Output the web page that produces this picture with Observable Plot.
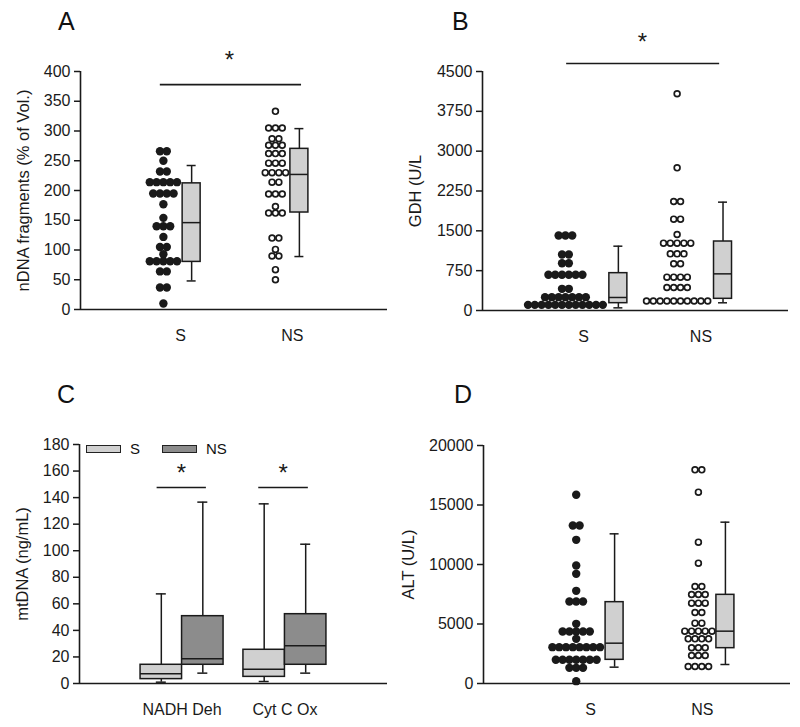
<!DOCTYPE html>
<html><head><meta charset="utf-8">
<script src="https://cdn.jsdelivr.net/npm/d3@7"></script>
<script src="https://cdn.jsdelivr.net/npm/@observablehq/plot@0.6"></script>
<style>
body{margin:0;background:#fff;font-family:"Liberation Sans",Arial,sans-serif;}
#root{position:relative;width:800px;height:727px;overflow:hidden;background:#fff;}
.panel{position:absolute;}
.letter{position:absolute;font-size:25px;line-height:1;color:#111;}
.leg{position:absolute;font-size:15px;line-height:1;color:#111;display:flex;align-items:center;}
.leg span.sw{display:inline-block;width:33px;height:6px;border:1.5px solid #222;margin-right:9px;}
</style></head><body><div id="root"></div>
<script>
// ---------- DATA ----------
const groups = ["S", "NS"];

// Panel A: nDNA fragments (% of Vol.) — dot rows (value, number of dots) and box stats [low whisker, Q1, median, Q3, high whisker]
const nDNA_S_vals = [266, 250, 232, 214, 195, 177, 154, 140, 122, 105, 93, 81, 64, 37, 10];
const nDNA_S_n    = [2, 1, 2, 5, 4, 1, 1, 3, 1, 2, 1, 5, 2, 2, 1];
const nDNA_NS_vals = [333, 305, 287, 276, 262, 246, 230, 214, 194, 173, 162, 120, 101, 90, 67, 50];
const nDNA_NS_n    = [1, 3, 2, 3, 3, 3, 4, 2, 3, 1, 3, 2, 1, 2, 1, 1];
const nDNA_S_box  = [48, 80, 146, 212, 242];
const nDNA_NS_box = [89, 163, 227, 270, 304];
const nDNA_ticks = [0, 50, 100, 150, 200, 250, 300, 350, 400];

// Panel B: GDH (U/L)
const GDH_S_vals = [1412, 1054, 891, 672, 408, 251, 106];
const GDH_S_n    = [3, 2, 2, 6, 2, 7, 12];
const GDH_NS_vals = [4080, 2686, 2052, 1720, 1431, 1268, 1067, 879, 628, 433, 180];
const GDH_NS_n    = [1, 1, 2, 2, 1, 5, 3, 2, 4, 4, 10];
const GDH_S_box  = [50, 138, 245, 703, 1211];
const GDH_NS_box = [145, 220, 690, 1299, 2040];
const GDH_ticks = [0, 750, 1500, 2250, 3000, 3750, 4500];

// Panel C: mtDNA (ng/mL) box plots
const mt_categories = ["NADH Deh", "Cyt C Ox"];
const mt_S_box  = [[1.0, 3.3, 7.3, 14.1, 67.5], [1.5, 5.0, 10.8, 25.4, 135.3]];
const mt_NS_box = [[7.8, 14.1, 18.6, 50.7, 136.6], [7.8, 14.1, 28.4, 52.2, 104.9]];
const mt_ticks = [0, 20, 40, 60, 80, 100, 120, 140, 160, 180];

// Panel D: ALT (U/L)
const ALT_S_vals = [15857, 13277, 12073, 9916, 9216, 7787, 6891, 5014, 4370, 3754, 3053, 1990, 1317, 196];
const ALT_S_n    = [1, 2, 1, 1, 1, 1, 3, 1, 5, 1, 8, 7, 3, 1];
const ALT_NS_vals = [17955, 16078, 11877, 10112, 8151, 7479, 6751, 5966, 5070, 4398, 3754, 3000, 2353, 1429];
const ALT_NS_n    = [2, 1, 1, 1, 2, 3, 3, 2, 2, 5, 4, 3, 3, 4];
const ALT_S_box  = [1373, 1989, 3389, 6835, 12577];
const ALT_NS_box = [1597, 2969, 4398, 7451, 13557];
const ALT_ticks = [0, 5000, 10000, 15000, 20000];

// ---------- STYLE / LAYOUT ----------
const INK = "#1a1a1a";
const LIGHT = "#d0d0d0";
const DARK = "#8c8c8c";
const FONT = "'Liberation Sans', Arial, sans-serif";
const root = document.getElementById("root");

function place(node, left, top) {
  node.classList.add("panel");
  node.style.left = left + "px";
  node.style.top = top + "px";
  root.appendChild(node);
}

function boxRecord(stats, x, extra) {
  return Object.assign({x, lo: stats[0], q1: stats[1], med: stats[2], q3: stats[3], hi: stats[4]}, extra || {});
}

function boxMarks(boxes, halfW, capHalf) {
  return [
    Plot.ruleX(boxes, {x: "x", y1: "lo", y2: "hi", stroke: INK, strokeWidth: 1.5}),
    Plot.ruleY(boxes, {y: "hi", x1: d => d.x - capHalf, x2: d => d.x + capHalf, stroke: INK, strokeWidth: 1.5}),
    Plot.ruleY(boxes, {y: "lo", x1: d => d.x - capHalf, x2: d => d.x + capHalf, stroke: INK, strokeWidth: 1.5}),
    Plot.rect(boxes, {x1: d => d.x - halfW(d), x2: d => d.x + halfW(d), y1: "q1", y2: "q3", fill: d => d.fill || LIGHT, stroke: INK, strokeWidth: 1.5}),
    Plot.ruleY(boxes, {y: "med", x1: d => d.x - halfW(d), x2: d => d.x + halfW(d), stroke: INK, strokeWidth: 1.5})
  ];
}

function axesMarks(cfg) {
  const [y0, y1] = cfg.yDomain;
  return [
    Plot.axisY({ticks: cfg.yTicks, tickSize: 6, tickPadding: 4, tickFormat: d => String(d), stroke: INK, strokeWidth: 1.5, fontSize: 16, fill: INK, label: null}),
    Plot.ruleX([0], {y1: y0, y2: y1, stroke: INK, strokeWidth: 1.6}),
    Plot.ruleY([y0], {stroke: INK, strokeWidth: 1.6}),
    Plot.text([cfg.yLabel], {frameAnchor: "left", textAnchor: "middle", lineAnchor: "middle", rotate: -90, dx: -cfg.labelOffset, fontSize: 16.5, fill: INK, text: d => d})
  ];
}

function dotBoxPanel(cfg) {
  const plotW = cfg.width - cfg.marginLeft - cfg.marginRight;
  const u = px => px / plotW;               // pixel spacing -> x units (domain 0..1)
  const spacing = u(6.8);
  const dots = [];
  cfg.series.forEach(s => {
    s.vals.forEach((v, j) => {
      const n = s.n[j];
      for (let i = 0; i < n; i++) {
        dots.push({group: s.group, value: v, x: s.dotX + (i - (n - 1) / 2) * spacing, open: s.open});
      }
    });
  });
  const boxes = cfg.series.map(s => boxRecord(s.box, s.boxX));
  const marks = [
    ...axesMarks(cfg),
    ...boxMarks(boxes, () => u(9), u(4.5)),
    Plot.dot(dots.filter(d => !d.open), {x: "x", y: "value", r: 4.2, fill: INK, stroke: "none"}),
    Plot.dot(dots.filter(d => d.open), {x: "x", y: "value", r: 2.9, fill: "white", stroke: INK, strokeWidth: 1.7}),
    Plot.text(cfg.series, {x: "labelX", frameAnchor: "bottom", dy: 31, text: "group", fontSize: 16, fill: INK})
  ];
  if (cfg.sig) {
    marks.push(Plot.ruleY([cfg.sig.y], {x1: cfg.sig.x1, x2: cfg.sig.x2, stroke: INK, strokeWidth: 1.6}));
    marks.push(Plot.text(["*"], {x: cfg.sig.starX, y: cfg.sig.starY, fontSize: 24, fill: INK, text: d => d}));
  }
  return Plot.plot({
    width: cfg.width, height: cfg.height,
    marginLeft: cfg.marginLeft, marginRight: cfg.marginRight, marginTop: cfg.marginTop, marginBottom: cfg.marginBottom,
    x: {domain: [0, 1], axis: null},
    y: {domain: cfg.yDomain, axis: null},
    style: {fontFamily: FONT, fontSize: "16px", color: INK, background: "transparent", overflow: "visible"},
    marks
  });
}

// Panel A
place(dotBoxPanel({
  width: 400, height: 355, marginLeft: 80, marginRight: 13, marginTop: 71, marginBottom: 46,
  yDomain: [0, 400], yTicks: nDNA_ticks, yLabel: "nDNA fragments (% of Vol.)", labelOffset: 57,
  series: [
    {group: groups[0], vals: nDNA_S_vals, n: nDNA_S_n, box: nDNA_S_box, dotX: 0.270, boxX: 0.362, labelX: 0.326, open: false},
    {group: groups[1], vals: nDNA_NS_vals, n: nDNA_NS_n, box: nDNA_NS_box, dotX: 0.635, boxX: 0.713, labelX: 0.690, open: true}
  ],
  sig: {y: 378, x1: 0.26, x2: 0.72, starX: 0.485, starY: 418}
}), 0, 0);

// Panel B
place(dotBoxPanel({
  width: 400, height: 355, marginLeft: 82, marginRight: 12, marginTop: 71, marginBottom: 45,
  yDomain: [0, 4500], yTicks: GDH_ticks, yLabel: "GDH (U/L", labelOffset: 67,
  series: [
    {group: groups[0], vals: GDH_S_vals, n: GDH_S_n, box: GDH_S_box, dotX: 0.271, boxX: 0.444, labelX: 0.330, open: false},
    {group: groups[1], vals: GDH_NS_vals, n: GDH_NS_n, box: GDH_NS_box, dotX: 0.636, boxX: 0.786, labelX: 0.714, open: true}
  ],
  sig: {y: 4651, x1: 0.275, x2: 0.775, starX: 0.523, starY: 5050}
}), 400, 0);

// Panel C
(function () {
  const cfg = {
    width: 400, height: 367, marginLeft: 79, marginRight: 13, marginTop: 84, marginBottom: 44,
    yDomain: [0, 180], yTicks: mt_ticks, yLabel: "mtDNA (ng/mL)", labelOffset: 57
  };
  const plotW = cfg.width - cfg.marginLeft - cfg.marginRight;
  const u = px => px / plotW;
  const centers = [0.333, 0.667];
  const bw = u(41.5);
  const boxes = [];
  mt_categories.forEach((c, i) => {
    boxes.push(boxRecord(mt_S_box[i], centers[i] - bw / 2, {fill: LIGHT}));
    boxes.push(boxRecord(mt_NS_box[i], centers[i] + bw / 2, {fill: DARK}));
  });
  const sig = [
    {x1: 0.252, x2: 0.412, star: 0.331},
    {x1: 0.582, x2: 0.743, star: 0.661}
  ];
  const chart = Plot.plot({
    width: cfg.width, height: cfg.height,
    marginLeft: cfg.marginLeft, marginRight: cfg.marginRight, marginTop: cfg.marginTop, marginBottom: cfg.marginBottom,
    x: {domain: [0, 1], axis: null},
    y: {domain: cfg.yDomain, axis: null},
    style: {fontFamily: FONT, fontSize: "16px", color: INK, background: "transparent", overflow: "visible"},
    marks: [
      ...axesMarks(cfg),
      ...boxMarks(boxes, () => bw / 2, u(5)),
      Plot.text(mt_categories, {x: (d, i) => centers[i], frameAnchor: "bottom", dy: 31, text: d => d, fontSize: 16, fill: INK}),
      Plot.ruleY(sig, {y: 147.6, x1: "x1", x2: "x2", stroke: INK, strokeWidth: 1.6}),
      Plot.text(sig, {x: "star", y: 158, text: () => "*", fontSize: 24, fill: INK})
    ]
  });
  place(chart, 0, 360);
  const leg = document.createElement("div");
  leg.className = "leg";
  leg.style.left = "86px"; leg.style.top = "441px";
  leg.innerHTML = `<span class="sw" style="background:${LIGHT}"></span><span style="margin-right:22px">${groups[0]}</span><span class="sw" style="background:${DARK}"></span><span>${groups[1]}</span>`;
  root.appendChild(leg);
})();

// Panel D
place(dotBoxPanel({
  width: 400, height: 367, marginLeft: 83, marginRight: 10, marginTop: 85, marginBottom: 44,
  yDomain: [0, 20000], yTicks: ALT_ticks, yLabel: "ALT (U/L)", labelOffset: 75,
  series: [
    {group: groups[0], vals: ALT_S_vals, n: ALT_S_n, box: ALT_S_box, dotX: 0.302, boxX: 0.427, labelX: 0.349, open: false},
    {group: groups[1], vals: ALT_NS_vals, n: ALT_NS_n, box: ALT_NS_box, dotX: 0.700, boxX: 0.788, labelX: 0.713, open: true}
  ]
}), 400, 360);

// Panel letters
[["A", 58, 9], ["B", 452, 9], ["C", 57, 382], ["D", 454, 382]].forEach(([t, x, y]) => {
  const d = document.createElement("div");
  d.className = "letter";
  d.textContent = t;
  d.style.left = x + "px"; d.style.top = y + "px";
  root.appendChild(d);
});
</script>
</body></html>
